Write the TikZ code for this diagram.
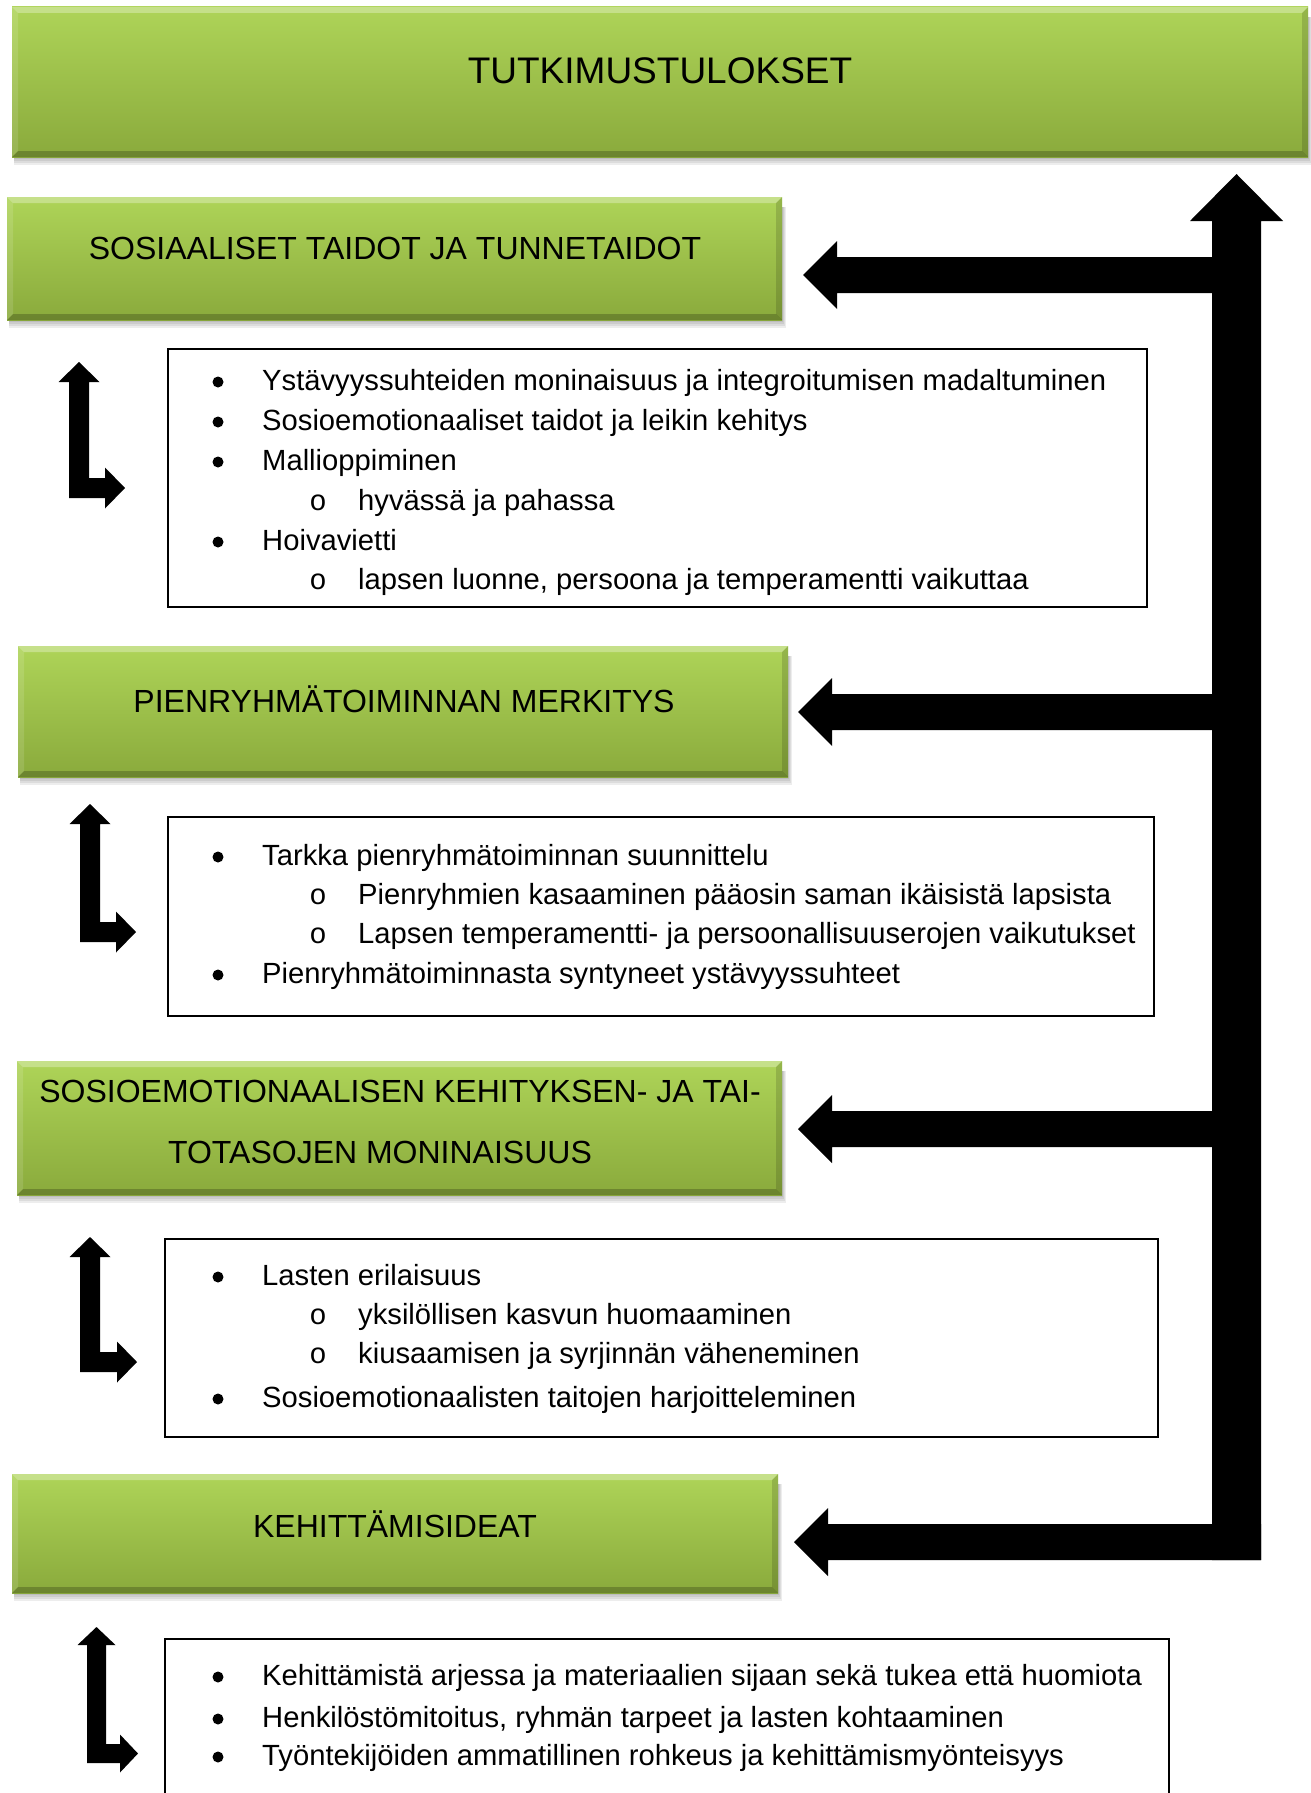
\documentclass[tikz,border=0pt]{standalone}
\usepackage{fontspec}
\setmainfont{Liberation Sans}
\newfontfamily\monofnt{Liberation Mono}
\usetikzlibrary{calc,backgrounds}
\definecolor{gtop}{RGB}{174,212,88}
\definecolor{gbot}{RGB}{138,170,60}
\newcommand\bl[3]{\node[bul] (#1b) at (218,#2-8) {}; \node[ltext] (#1) at (262,#2) {#3};}
\newcommand\sbl[3]{\node[sbul] (#1b) at (318,#2-7) {o}; \node[ltext] (#1) at (358,#2) {#3};}
\newcommand\branch[4]{%
  \fill[blk] let \p1=($(#1.east)+(#2,#3)$), \p2=($(trunkbot)+(#4,0)$) in
    (\p1) -- (\x1+34pt,\y1+34pt) -- (\x1+34pt,\y1+18pt) -- (\x2,\y1+18pt)
    -- (\x2,\y1-18pt) -- (\x1+34pt,\y1-18pt) -- (\x1+34pt,\y1-34pt) -- cycle;}
\newcommand\bentarrow[7]{%
  \fill[blk] (#1+#2/2,#3) -- (#1+#2/2+#5,#3+#4) -- (#1+#2,#3+#4) -- (#1+#2,#6-#2)
    -- (#7-#4,#6-#2) -- (#7-#4,#6-#2/2-#5) -- (#7,#6-#2/2) -- (#7-#4,#6-#2/2+#5)
    -- (#7-#4,#6) -- (#1,#6) -- (#1,#3+#4) -- (#1+#2/2-#5,#3+#4) -- cycle;}
\newcommand\bevel[1]{%
  \fill[white,opacity=0.30] let \p1=(#1.south west), \p2=(#1.north east) in
    (\x1,\y2) -- (\x2,\y2) -- (\x2-6pt,\y2-6pt) -- (\x1+6pt,\y2-6pt) -- cycle;
  \fill[white,opacity=0.12] let \p1=(#1.south west), \p2=(#1.north east) in
    (\x1,\y2) -- (\x1+6pt,\y2-6pt) -- (\x1+6pt,\y1+6pt) -- (\x1,\y1) -- cycle;
  \fill[black,opacity=0.14] let \p1=(#1.south west), \p2=(#1.north east) in
    (\x2,\y2) -- (\x2-6pt,\y2-6pt) -- (\x2-6pt,\y1+6pt) -- (\x2,\y1) -- cycle;
  \fill[black,opacity=0.22] let \p1=(#1.south west), \p2=(#1.north east) in
    (\x1,\y1) -- (\x2,\y1) -- (\x2-6pt,\y1+6pt) -- (\x1+6pt,\y1+6pt) -- cycle;}
\newcommand\shadowbox[1]{%
  \foreach \d in {2,4,6,8}{%
    \fill[black,opacity=0.07] let \p1=(#1.south west), \p2=(#1.north east) in
      (\x1+2pt,\y1-\d pt) rectangle (\x2+0.5*\d pt,\y2-10pt);}}
\begin{document}
\begin{tikzpicture}[x=1pt,y=-1pt,
  hbox/.style={rectangle, draw=none, top color=gtop, bottom color=gbot,
    anchor=north west, inner sep=0pt, outer sep=0pt},
  htext/.style={font=\fontsize{32}{38}\selectfont, anchor=base, inner sep=0pt},
  ltext/.style={font=\fontsize{29.2}{34}\selectfont, anchor=base west, inner sep=0pt},
  bul/.style={circle, fill=black, inner sep=0pt, minimum size=11pt},
  sbul/.style={font=\fontsize{29}{34}\monofnt, anchor=center, inner sep=0pt},
  lbox/.style={draw=black, line width=2.5pt, fill=white, anchor=north west,
    inner sep=0pt, outer sep=0pt},
  blk/.style={fill=black}]
\useasboundingbox (0,0) rectangle (1311,1793);
\clip (0,0) rectangle (1311,1793);

% heading boxes
\node[hbox, minimum width=1296pt, minimum height=150pt] (h0) at (12,7) {};
\node[hbox, minimum width=775pt, minimum height=123pt] (h1) at (7,197) {};
\node[hbox, minimum width=770pt, minimum height=131pt] (h2) at (18,646) {};
\node[hbox, minimum width=765pt, minimum height=134pt] (h3) at (17,1061) {};
\node[hbox, minimum width=766pt, minimum height=119pt] (h4) at (12,1474) {};
\foreach \b in {h0,h1,h2,h3,h4}{\bevel{\b}}

\begin{scope}[on background layer]
  \fill[white] (0,0) rectangle (1311,1793);
  \foreach \b in {h0,h1,h2,h3,h4}{\shadowbox{\b}}
\end{scope}

\node[htext, font=\fontsize{37}{44}\selectfont] (t0) at (660,83) {TUTKIMUSTULOKSET};
\node[htext] (t1) at (395,259) {SOSIAALISET TAIDOT JA TUNNETAIDOT};
\node[htext] (t2) at (404,712) {PIENRYHMÄTOIMINNAN MERKITYS};
\node[htext] (t3a) at (400,1102) {SOSIOEMOTIONAALISEN KEHITYKSEN- JA TAI-};
\node[htext] (t3b) at (380,1163) {TOTASOJEN MONINAISUUS};
\node[htext] (t4) at (395,1537) {KEHITTÄMISIDEAT};

% list boxes
\node[lbox, minimum width=979pt, minimum height=258pt] (l1) at (168,349) {};
\node[lbox, minimum width=986pt, minimum height=199pt] (l2) at (168,817) {};
\node[lbox, minimum width=993pt, minimum height=198pt] (l3) at (165,1239) {};
\node[lbox, minimum width=1004pt, minimum height=200pt] (l4) at (165,1639) {};

% list 1
\bl{a1}{390}{Ystävyyssuhteiden moninaisuus ja integroitumisen madaltuminen}
\bl{a2}{430}{Sosioemotionaaliset taidot ja leikin kehitys}
\bl{a3}{470}{Mallioppiminen}
\sbl{a4}{510}{hyvässä ja pahassa}
\bl{a5}{550}{Hoivavietti}
\sbl{a6}{589}{lapsen luonne, persoona ja temperamentti vaikuttaa}
% list 2
\bl{b1}{865}{Tarkka pienryhmätoiminnan suunnittelu}
\sbl{b2}{904}{Pienryhmien kasaaminen pääosin saman ikäisistä lapsista}
\sbl{b3}{943}{Lapsen temperamentti- ja persoonallisuuserojen vaikutukset}
\bl{b4}{983}{Pienryhmätoiminnasta syntyneet ystävyyssuhteet}
% list 3
\bl{c1}{1285}{Lasten erilaisuus}
\sbl{c2}{1324}{yksilöllisen kasvun huomaaminen}
\sbl{c3}{1363}{kiusaamisen ja syrjinnän väheneminen}
\bl{c4}{1407}{Sosioemotionaalisten taitojen harjoitteleminen}
% list 4
\bl{d1}{1685}{Kehittämistä arjessa ja materiaalien sijaan sekä tukea että huomiota}
\bl{d2}{1727}{Henkilöstömitoitus, ryhmän tarpeet ja lasten kohtaaminen}
\bl{d3}{1765}{Työntekijöiden ammatillinen rohkeus ja kehittämismyönteisyys}

% big connector
\coordinate (trunkbot) at (1236.5,1560);
\fill[blk] let \p1=(trunkbot), \p2=($(trunkbot |- h0.south)+(0,17)$) in
  (\x1-24.5pt,\y1) -- (\x1+24.5pt,\y1) -- (\x1+24.5pt,\y2-47pt) -- (\x1+46.5pt,\y2-47pt)
  -- (\x2,\y2) -- (\x1-46.5pt,\y2-47pt) -- (\x1-24.5pt,\y2-47pt) -- cycle;
\branch{h1}{21}{16.5}{0}
\branch{h2}{10}{0.5}{0}
\branch{h3}{16}{1}{0}
\branch{h4}{16}{8.5}{24.5}

% small bent arrows
\bentarrow{69}{20}{362}{20}{20.5}{498}{125}
\bentarrow{80}{20}{804}{20}{20.5}{942}{136}
\bentarrow{80}{20}{1237}{20}{20.5}{1372}{137}
\bentarrow{87}{19}{1627}{18}{19}{1763}{138}
\end{tikzpicture}
\end{document}
